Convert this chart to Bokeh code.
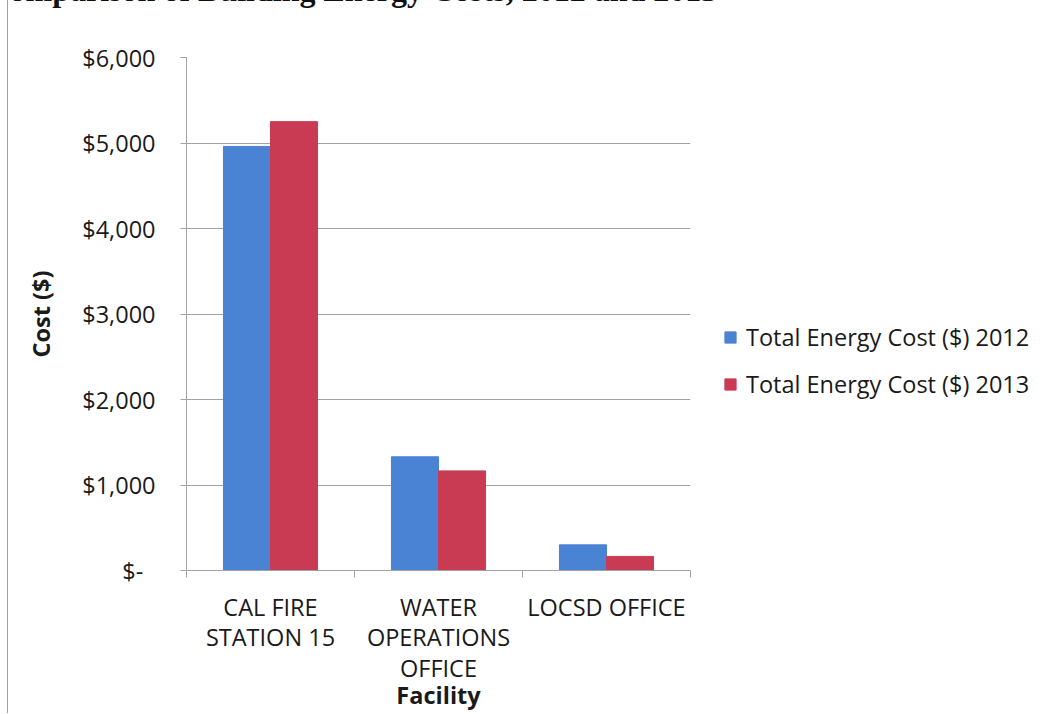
from bokeh.plotting import figure
from bokeh.models import (FixedTicker, NumeralTickFormatter, Legend, LegendItem,
                          Range1d, ColumnDataSource)
from bokeh.embed import file_html
from bokeh.resources import INLINE
import numpy as np

# ---- data ----
facilities = ["CAL FIRE\nSTATION 15", "WATER\nOPERATIONS\nOFFICE", "LOCSD OFFICE"]
cost_2012 = [4960, 1330, 300]
cost_2013 = [5250, 1165, 165]
series_names = ["Total Energy Cost ($) 2012", "Total Energy Cost ($) 2013"]
y_ticks = [0, 1000, 2000, 3000, 4000, 5000, 6000]
page_title = "Comparison of Building Energy Costs, 2012 and 2013"

BLUE = "#4a82d4"
RED = "#c93b52"
GRID = "#a3a3a3"
FONT = "Open Sans"
FS = "23.5px"
TXT = "#1a1a1a"

idx = np.arange(len(facilities))
src12 = ColumnDataSource(dict(x=idx + 0.36, top=cost_2012))
src13 = ColumnDataSource(dict(x=idx + 0.64, top=cost_2013))

p = figure(frame_width=504, frame_height=513, output_backend="svg", toolbar_location=None,
           x_range=Range1d(0, len(facilities)), y_range=Range1d(0, 6000),
           min_border_left=178, min_border_right=10, min_border_top=150,
           min_border_bottom=120)
p.outline_line_color = None
p.background_fill_color = "white"
p.border_fill_color = "white"
# the page heading sits mostly above the visible area, as in the scanned page
p.styles = {"margin-left": "7px", "margin-top": "-93px", "border-left": "1px solid #a0a0a0"}

# page title (only its lower edge shows at the top of the page)
p.title.text = page_title
p.title.text_font = "Liberation Serif"
p.title.text_font_style = "bold"
p.title.text_font_size = "32px"
p.title.text_color = "#111111"
p.title.align = "left"
p.title.offset = -200
p.title.standoff = 100

r12 = p.vbar(x="x", top="top", width=0.28, source=src12, fill_color=BLUE, line_color=BLUE)
r13 = p.vbar(x="x", top="top", width=0.28, source=src13, fill_color=RED, line_color=RED)

# grids
p.xgrid.grid_line_color = None
p.ygrid.ticker = FixedTicker(ticks=y_ticks)
p.ygrid.grid_line_color = GRID
p.ygrid.grid_line_width = 1

# x axis
xa = p.xaxis[0]
xa.ticker = FixedTicker(ticks=list(idx + 0.5), minor_ticks=list(range(len(facilities) + 1)))
xa.major_label_overrides = {float(i + 0.5): f for i, f in enumerate(facilities)}
xa.major_tick_line_color = None
xa.minor_tick_line_color = GRID
xa.minor_tick_out = 7
xa.minor_tick_in = 0
xa.axis_line_color = GRID
xa.major_label_standoff = 13
xa.major_label_text_font = FONT
xa.major_label_text_font_size = FS
xa.major_label_text_line_height = 0.955
xa.major_label_text_color = TXT
xa.axis_label = "Facility"
xa.axis_label_text_font = FONT
xa.axis_label_text_font_style = "bold"
xa.axis_label_text_font_size = FS
xa.axis_label_text_color = TXT
xa.axis_label_standoff = -8

# y axis
ya = p.yaxis[0]
ya.ticker = FixedTicker(ticks=y_ticks)
ya.formatter = NumeralTickFormatter(format="$0,0")
ya.major_label_overrides = {0: "$-\u00a0\u00a0"}
ya.minor_tick_line_color = None
ya.major_tick_line_color = GRID
ya.major_tick_out = 6
ya.major_tick_in = 0
ya.axis_line_color = GRID
ya.major_label_standoff = 25
ya.major_label_text_font = FONT
ya.major_label_text_font_size = FS
ya.major_label_text_color = TXT
ya.axis_label = "Cost ($)"
ya.axis_label_text_font = FONT
ya.axis_label_text_font_style = "bold"
ya.axis_label_text_font_size = FS
ya.axis_label_text_color = TXT
ya.axis_label_standoff = 22

# legend
legend = Legend(items=[LegendItem(label=series_names[0], renderers=[r12]),
                       LegendItem(label=series_names[1], renderers=[r13])],
                location=(33, 170), orientation="vertical")
legend.border_line_color = None
legend.background_fill_alpha = 0
legend.padding = 0
legend.margin = 0
legend.spacing = 15
legend.glyph_width = 14
legend.glyph_height = 14
legend.label_height = 18
legend.label_standoff = 9
legend.label_text_font = FONT
legend.label_text_font_size = FS
legend.label_text_color = TXT
p.add_layout(legend, "right")

open("out.html", "w").write(file_html(p, INLINE))
